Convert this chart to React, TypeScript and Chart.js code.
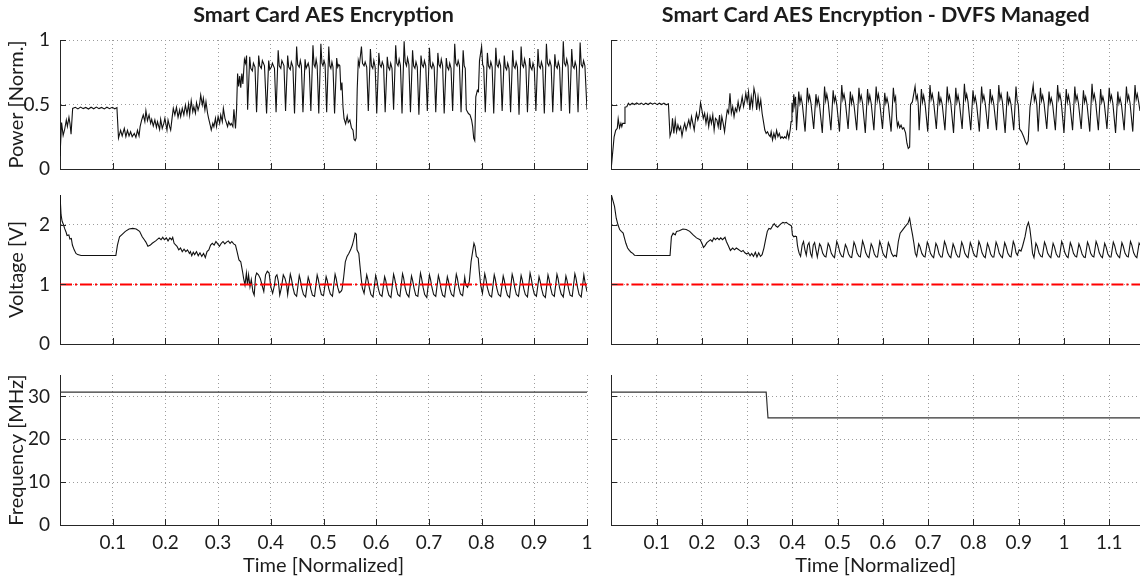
import { useEffect, useRef } from "react";
import { Chart, registerables } from "chart.js";

Chart.register(...registerables);

type Pt = [number, number];

// ---- axis ticks and limits ----
const stdTimeTicks = [0.1, 0.2, 0.3, 0.4, 0.5, 0.6, 0.7, 0.8, 0.9, 1];
const dvfsTimeTicks = [0.1, 0.2, 0.3, 0.4, 0.5, 0.6, 0.7, 0.8, 0.9, 1, 1.1];
const powerTicks = [0, 0.5, 1];
const voltageTicks = [0, 1, 2];
const freqTicks = [0, 10, 20, 30];

const stdTimeMax = 1;
const dvfsTimeMax = 1.168;
const powerMax = 1;
const voltageMax = 2.5;
const freqMax = 35;
const voltageFloor = 1;

// ---- normalised power, fixed clock ----
const powerStd: Pt[] = [
  [0, 0.1], [0.003, 0.36], [0.006, 0.26], [0.009, 0.31], [0.012, 0.38], [0.014, 0.33], [0.017, 0.4], [0.019, 0.35], [0.021, 0.27], [0.024, 0.47],
  [0.029, 0.478], [0.034, 0.466], [0.039, 0.48], [0.044, 0.468], [0.049, 0.477], [0.054, 0.465], [0.059, 0.479], [0.064, 0.467], [0.069, 0.48], [0.074, 0.468],
  [0.079, 0.477], [0.084, 0.466], [0.089, 0.479], [0.094, 0.468], [0.099, 0.478], [0.104, 0.467], [0.108, 0.476],
  [0.111, 0.24], [0.115, 0.3], [0.118, 0.256], [0.122, 0.315], [0.125, 0.251], [0.128, 0.3], [0.131, 0.256], [0.134, 0.289], [0.137, 0.251], [0.141, 0.276],
  [0.144, 0.245], [0.147, 0.3], [0.15, 0.256], [0.152, 0.328], [0.155, 0.38], [0.158, 0.419], [0.161, 0.367], [0.163, 0.452], [0.166, 0.375], [0.169, 0.419],
  [0.172, 0.354], [0.174, 0.385], [0.177, 0.333], [0.18, 0.38], [0.183, 0.323], [0.185, 0.367], [0.189, 0.307], [0.191, 0.385], [0.194, 0.315], [0.197, 0.354],
  [0.199, 0.393], [0.203, 0.302], [0.205, 0.38], [0.208, 0.328], [0.21, 0.302], [0.213, 0.406], [0.215, 0.47], [0.218, 0.419], [0.221, 0.478], [0.224, 0.401],
  [0.227, 0.457], [0.229, 0.406], [0.232, 0.47], [0.235, 0.419], [0.238, 0.496], [0.241, 0.426], [0.244, 0.504], [0.246, 0.419], [0.249, 0.53], [0.252, 0.444],
  [0.254, 0.483], [0.257, 0.432], [0.259, 0.514], [0.262, 0.457], [0.265, 0.504], [0.267, 0.574], [0.27, 0.496], [0.272, 0.548], [0.275, 0.457], [0.277, 0.522],
  [0.28, 0.432], [0.282, 0.393], [0.285, 0.341], [0.287, 0.302], [0.29, 0.354], [0.292, 0.328], [0.295, 0.393], [0.297, 0.328], [0.3, 0.406], [0.303, 0.354],
  [0.305, 0.419], [0.308, 0.367], [0.31, 0.47], [0.313, 0.393], [0.315, 0.367], [0.318, 0.328], [0.32, 0.367], [0.323, 0.341], [0.325, 0.354], [0.328, 0.328],
  [0.33, 0.463], [0.333, 0.315], [0.335, 0.457],
  [0.337, 0.74], [0.339, 0.64], [0.341, 0.72], [0.343, 0.63], [0.345, 0.74], [0.347, 0.66], [0.35, 0.85], [0.352, 0.82], [0.354, 0.88],
  [0.356, 0.46], [0.36, 0.87], [0.362, 0.78], [0.365, 0.76], [0.367, 0.82], [0.37, 0.79],
  [0.373, 0.44], [0.377, 0.88], [0.379, 0.8], [0.382, 0.78], [0.384, 0.84], [0.388, 0.8],
  [0.392, 0.43], [0.396, 0.84], [0.398, 0.77], [0.401, 0.79], [0.403, 0.82], [0.407, 0.78],
  [0.41, 0.44], [0.414, 0.92], [0.416, 0.8], [0.419, 0.78], [0.421, 0.84], [0.425, 0.8],
  [0.428, 0.45], [0.432, 0.88], [0.434, 0.79], [0.437, 0.77], [0.439, 0.83], [0.442, 0.79],
  [0.445, 0.43], [0.449, 0.95], [0.451, 0.81], [0.454, 0.79], [0.456, 0.84], [0.458, 0.8],
  [0.461, 0.44], [0.465, 0.85], [0.467, 0.78], [0.469, 0.8], [0.471, 0.82], [0.473, 0.78],
  [0.476, 0.45], [0.48, 0.96], [0.482, 0.81], [0.484, 0.79], [0.486, 0.85], [0.488, 0.8],
  [0.491, 0.43], [0.495, 0.97], [0.497, 0.82], [0.499, 0.8], [0.501, 0.84], [0.503, 0.81],
  [0.506, 0.44], [0.51, 0.95], [0.512, 0.8], [0.514, 0.78], [0.516, 0.83], [0.518, 0.79],
  [0.521, 0.43], [0.525, 0.86], [0.527, 0.79], [0.529, 0.81], [0.531, 0.8], [0.533, 0.61], [0.535, 0.67],
  [0.537, 0.48], [0.539, 0.39], [0.542, 0.35], [0.545, 0.41], [0.547, 0.36], [0.55, 0.38], [0.553, 0.32], [0.556, 0.3], [0.558, 0.23], [0.56, 0.22],
  [0.562, 0.24], [0.564, 0.62], [0.566, 0.84], [0.568, 0.8], [0.572, 0.95], [0.574, 0.82], [0.577, 0.8], [0.579, 0.83], [0.582, 0.79],
  [0.585, 0.45], [0.589, 0.93], [0.591, 0.8], [0.5935, 0.78], [0.5955, 0.84], [0.598, 0.79],
  [0.601, 0.43], [0.605, 0.9], [0.607, 0.81], [0.6095, 0.79], [0.6115, 0.83], [0.614, 0.8],
  [0.617, 0.44], [0.621, 0.87], [0.623, 0.79], [0.6255, 0.77], [0.6275, 0.82], [0.63, 0.78],
  [0.633, 0.46], [0.637, 0.96], [0.639, 0.82], [0.6415, 0.8], [0.6435, 0.85], [0.646, 0.8],
  [0.649, 0.43], [0.653, 0.99], [0.655, 0.83], [0.6575, 0.8], [0.6595, 0.86], [0.662, 0.81],
  [0.665, 0.44], [0.669, 0.92], [0.671, 0.8], [0.6735, 0.78], [0.6755, 0.83], [0.678, 0.79],
  [0.681, 0.42], [0.685, 0.88], [0.687, 0.81], [0.6895, 0.79], [0.6915, 0.84], [0.694, 0.8],
  [0.697, 0.45], [0.701, 0.94], [0.703, 0.8], [0.7055, 0.78], [0.7075, 0.82], [0.71, 0.79],
  [0.713, 0.44], [0.717, 0.9], [0.719, 0.81], [0.7215, 0.79], [0.7235, 0.85], [0.726, 0.8],
  [0.729, 0.43], [0.733, 0.86], [0.735, 0.79], [0.7375, 0.77], [0.7395, 0.82], [0.742, 0.78],
  [0.745, 0.45], [0.749, 0.97], [0.751, 0.82], [0.7535, 0.8], [0.7555, 0.84], [0.758, 0.8],
  [0.761, 0.44], [0.765, 0.92], [0.767, 0.8], [0.769, 0.78],
  [0.771, 0.46], [0.775, 0.43], [0.778, 0.42], [0.781, 0.38], [0.783, 0.33], [0.785, 0.24], [0.787, 0.22], [0.789, 0.56], [0.792, 0.61], [0.794, 0.6],
  [0.796, 0.84], [0.8, 0.95], [0.802, 0.81], [0.804, 0.79],
  [0.807, 0.44], [0.811, 0.9], [0.813, 0.8], [0.8155, 0.78], [0.8175, 0.83], [0.82, 0.79],
  [0.823, 0.43], [0.827, 0.94], [0.829, 0.81], [0.8315, 0.79], [0.8335, 0.84], [0.836, 0.8],
  [0.839, 0.45], [0.843, 0.88], [0.845, 0.79], [0.8475, 0.77], [0.8495, 0.82], [0.852, 0.78],
  [0.855, 0.44], [0.859, 0.92], [0.861, 0.8], [0.8635, 0.78], [0.8655, 0.83], [0.868, 0.79],
  [0.871, 0.42], [0.875, 0.95], [0.877, 0.81], [0.8795, 0.79], [0.8815, 0.85], [0.884, 0.8],
  [0.887, 0.44], [0.891, 0.86], [0.893, 0.79], [0.8955, 0.77], [0.8975, 0.82], [0.9, 0.78],
  [0.903, 0.45], [0.907, 0.93], [0.909, 0.8], [0.9115, 0.78], [0.9135, 0.83], [0.916, 0.79],
  [0.919, 0.43], [0.923, 0.97], [0.925, 0.82], [0.9275, 0.8], [0.9295, 0.84], [0.932, 0.8],
  [0.935, 0.44], [0.939, 0.89], [0.941, 0.8], [0.9435, 0.78], [0.9455, 0.83], [0.948, 0.79],
  [0.951, 0.45], [0.955, 0.99], [0.957, 0.82], [0.9595, 0.8], [0.9615, 0.85], [0.964, 0.8],
  [0.967, 0.43], [0.971, 0.93], [0.973, 0.8], [0.9755, 0.78], [0.9775, 0.83], [0.98, 0.79],
  [0.983, 0.44], [0.987, 0.98], [0.989, 0.81], [0.9915, 0.79], [0.9935, 0.84], [0.996, 0.8], [1, 0.46],
];

// ---- normalised power, DVFS managed ----
const powerDvfs: Pt[] = [
  [0, 0.02], [0.006, 0.25], [0.0095, 0.3], [0.013, 0.315], [0.015, 0.39], [0.018, 0.32], [0.021, 0.354], [0.023, 0.328], [0.025, 0.354], [0.028, 0.354],
  [0.03, 0.48], [0.034, 0.483], [0.0375, 0.51],
  [0.041, 0.496], [0.046, 0.51], [0.051, 0.5], [0.056, 0.512], [0.061, 0.501], [0.066, 0.511], [0.071, 0.499], [0.076, 0.51], [0.081, 0.5], [0.086, 0.512],
  [0.091, 0.502], [0.096, 0.511], [0.101, 0.499], [0.106, 0.51], [0.111, 0.5], [0.116, 0.511], [0.121, 0.498], [0.126, 0.505],
  [0.1295, 0.256], [0.133, 0.3], [0.135, 0.393], [0.138, 0.276], [0.141, 0.38], [0.144, 0.289], [0.147, 0.341], [0.15, 0.302], [0.153, 0.328], [0.156, 0.256],
  [0.159, 0.315], [0.162, 0.354], [0.165, 0.302], [0.168, 0.341], [0.171, 0.38], [0.174, 0.328], [0.177, 0.406], [0.18, 0.354], [0.183, 0.302], [0.186, 0.393],
  [0.188, 0.432], [0.191, 0.38], [0.194, 0.419], [0.197, 0.514], [0.2, 0.457], [0.203, 0.393], [0.206, 0.432], [0.209, 0.354], [0.212, 0.419], [0.215, 0.328],
  [0.218, 0.406], [0.221, 0.354], [0.224, 0.419], [0.227, 0.302], [0.23, 0.393], [0.233, 0.38], [0.236, 0.328], [0.239, 0.419], [0.241, 0.302], [0.244, 0.406],
  [0.247, 0.354], [0.25, 0.289], [0.253, 0.38], [0.256, 0.457], [0.259, 0.432], [0.262, 0.587], [0.265, 0.432], [0.268, 0.483], [0.271, 0.406], [0.274, 0.47],
  [0.277, 0.444], [0.28, 0.522], [0.283, 0.457], [0.286, 0.496], [0.289, 0.561], [0.292, 0.483], [0.295, 0.535], [0.297, 0.587], [0.3, 0.522], [0.303, 0.599],
  [0.306, 0.457], [0.309, 0.561], [0.312, 0.483], [0.315, 0.625], [0.318, 0.574], [0.321, 0.457], [0.324, 0.561], [0.327, 0.47], [0.33, 0.535], [0.333, 0.432],
  [0.336, 0.367], [0.339, 0.302], [0.342, 0.276], [0.345, 0.289], [0.348, 0.264], [0.351, 0.251], [0.353, 0.289], [0.356, 0.225], [0.359, 0.276], [0.362, 0.238],
  [0.365, 0.3], [0.368, 0.251], [0.371, 0.276], [0.374, 0.238], [0.377, 0.251], [0.38, 0.238], [0.383, 0.251], [0.386, 0.238], [0.389, 0.289], [0.392, 0.238],
  [0.395, 0.302], [0.397, 0.367], [0.399, 0.514], [0.401, 0.44], [0.403, 0.58], [0.405, 0.5], [0.407, 0.56],
  [0.409, 0.3], [0.414, 0.6], [0.4165, 0.51], [0.419, 0.56], [0.422, 0.5],
  [0.428, 0.29], [0.433, 0.63], [0.4355, 0.53], [0.438, 0.57], [0.441, 0.51],
  [0.447, 0.31], [0.452, 0.58], [0.4545, 0.5], [0.457, 0.55], [0.46, 0.49],
  [0.466, 0.28], [0.471, 0.64], [0.4735, 0.53], [0.476, 0.58], [0.479, 0.52],
  [0.485, 0.3], [0.49, 0.61], [0.4925, 0.52], [0.495, 0.56], [0.498, 0.5],
  [0.504, 0.29], [0.509, 0.65], [0.5115, 0.54], [0.514, 0.58], [0.517, 0.52],
  [0.523, 0.31], [0.528, 0.6], [0.5305, 0.51], [0.533, 0.56], [0.536, 0.5],
  [0.542, 0.3], [0.547, 0.63], [0.5495, 0.53], [0.552, 0.57], [0.555, 0.51],
  [0.561, 0.28], [0.566, 0.62], [0.5685, 0.52], [0.571, 0.57], [0.574, 0.51],
  [0.58, 0.3], [0.585, 0.64], [0.5875, 0.53], [0.59, 0.58], [0.593, 0.51],
  [0.599, 0.31], [0.604, 0.59], [0.6065, 0.51], [0.609, 0.55], [0.612, 0.5],
  [0.618, 0.29], [0.623, 0.63], [0.6255, 0.53], [0.628, 0.56], [0.63, 0.4],
  [0.632, 0.33], [0.634, 0.36], [0.637, 0.32], [0.64, 0.34], [0.643, 0.31], [0.646, 0.32], [0.65, 0.28], [0.653, 0.2], [0.656, 0.16], [0.659, 0.17],
  [0.661, 0.5], [0.665, 0.52], [0.671, 0.64], [0.6735, 0.54], [0.676, 0.57], [0.678, 0.5],
  [0.68, 0.3], [0.685, 0.62], [0.6875, 0.52], [0.69, 0.57], [0.693, 0.51],
  [0.699, 0.29], [0.704, 0.65], [0.7065, 0.54], [0.709, 0.58], [0.712, 0.52],
  [0.718, 0.31], [0.723, 0.6], [0.7255, 0.51], [0.728, 0.55], [0.731, 0.5],
  [0.737, 0.3], [0.742, 0.64], [0.7445, 0.53], [0.747, 0.57], [0.75, 0.51],
  [0.756, 0.28], [0.761, 0.63], [0.7635, 0.52], [0.766, 0.57], [0.769, 0.51],
  [0.775, 0.31], [0.78, 0.66], [0.7825, 0.54], [0.785, 0.58], [0.788, 0.52],
  [0.794, 0.3], [0.799, 0.61], [0.8015, 0.52], [0.804, 0.56], [0.807, 0.5],
  [0.813, 0.29], [0.818, 0.64], [0.8205, 0.53], [0.823, 0.57], [0.826, 0.51],
  [0.832, 0.31], [0.837, 0.62], [0.8395, 0.52], [0.842, 0.56], [0.845, 0.5],
  [0.851, 0.3], [0.856, 0.65], [0.8585, 0.54], [0.861, 0.58], [0.864, 0.52],
  [0.87, 0.28], [0.875, 0.6], [0.8775, 0.51], [0.88, 0.55], [0.883, 0.5],
  [0.889, 0.3], [0.894, 0.64], [0.8965, 0.53], [0.899, 0.5],
  [0.902, 0.31], [0.906, 0.29], [0.911, 0.25], [0.915, 0.21], [0.918, 0.19], [0.921, 0.22], [0.925, 0.48], [0.928, 0.55], [0.932, 0.65], [0.9345, 0.53],
  [0.937, 0.57], [0.94, 0.5],
  [0.943, 0.29], [0.948, 0.63], [0.9505, 0.53], [0.953, 0.57], [0.956, 0.51],
  [0.962, 0.31], [0.967, 0.6], [0.9695, 0.51], [0.972, 0.55], [0.975, 0.5],
  [0.981, 0.3], [0.986, 0.65], [0.9885, 0.54], [0.991, 0.58], [0.994, 0.52],
  [1, 0.28], [1.005, 0.62], [1.0075, 0.52], [1.01, 0.57], [1.013, 0.51],
  [1.019, 0.3], [1.024, 0.64], [1.0265, 0.53], [1.029, 0.57], [1.032, 0.51],
  [1.038, 0.31], [1.043, 0.61], [1.0455, 0.52], [1.048, 0.56], [1.051, 0.5],
  [1.057, 0.29], [1.062, 0.66], [1.0645, 0.54], [1.067, 0.58], [1.07, 0.52],
  [1.076, 0.3], [1.081, 0.62], [1.0835, 0.52], [1.086, 0.56], [1.089, 0.51],
  [1.095, 0.31], [1.1, 0.63], [1.1025, 0.53], [1.105, 0.57], [1.108, 0.51],
  [1.114, 0.28], [1.119, 0.6], [1.1215, 0.51], [1.124, 0.55], [1.127, 0.5],
  [1.133, 0.3], [1.138, 0.64], [1.1405, 0.53], [1.143, 0.57], [1.146, 0.51],
  [1.152, 0.29], [1.157, 0.65], [1.1595, 0.54], [1.162, 0.58], [1.165, 0.52], [1.168, 0.45],
];

// ---- supply voltage, fixed clock ----
const voltageStd: Pt[] = [
  [0, 2.5], [0.002, 2.17], [0.004, 2.06], [0.0067, 2.0], [0.0087, 1.94], [0.0114, 1.88], [0.0134, 1.82], [0.0168, 1.83], [0.0188, 1.76], [0.0215, 1.77],
  [0.0235, 1.66], [0.0269, 1.58], [0.0303, 1.52], [0.0336, 1.5], [0.04, 1.485], [0.106, 1.485],
  [0.109, 1.66], [0.113, 1.8], [0.118, 1.84], [0.124, 1.89], [0.131, 1.93], [0.138, 1.94], [0.1446, 1.93], [0.151, 1.89], [0.156, 1.8], [0.16, 1.75],
  [0.163, 1.71], [0.1668, 1.64], [0.1715, 1.66], [0.175, 1.69], [0.1816, 1.73], [0.188, 1.78], [0.1917, 1.75], [0.195, 1.79], [0.198, 1.75], [0.2018, 1.78],
  [0.205, 1.73], [0.2085, 1.78], [0.2118, 1.75], [0.2139, 1.79], [0.2165, 1.69], [0.222, 1.64], [0.2253, 1.58], [0.2287, 1.61], [0.232, 1.55], [0.2354, 1.59],
  [0.2387, 1.55], [0.242, 1.58], [0.2455, 1.52], [0.2475, 1.55], [0.25, 1.48], [0.2529, 1.54], [0.2555, 1.5], [0.259, 1.55], [0.2623, 1.48], [0.2656, 1.53],
  [0.269, 1.47], [0.2724, 1.52], [0.2757, 1.45], [0.279, 1.55], [0.2824, 1.58], [0.2858, 1.66], [0.289, 1.69], [0.2925, 1.66], [0.2959, 1.72], [0.2993, 1.68],
  [0.3026, 1.64], [0.306, 1.69], [0.3093, 1.72], [0.3127, 1.68], [0.316, 1.71], [0.3194, 1.73], [0.3228, 1.69], [0.326, 1.72], [0.3295, 1.68], [0.333, 1.66],
  [0.336, 1.55], [0.3396, 1.41], [0.343, 1.38], [0.3463, 1.22], [0.3484, 1.1], [0.351, 0.99], [0.3537, 1.19], [0.3557, 0.99], [0.3578, 1.16], [0.3605, 0.96],
  [0.363, 1.08], [0.366, 0.88], [0.3685, 0.82], [0.371, 1.13], [0.3732, 1.19], [0.3766, 1.16], [0.38, 1.1], [0.3833, 0.99], [0.3867, 0.88], [0.39, 1.16],
  [0.3934, 1.22], [0.3968, 1.19], [0.4, 0.96], [0.4035, 0.85], [0.407, 0.99], [0.409, 1.13], [0.4116, 1.16], [0.4143, 1.05], [0.417, 0.82], [0.42, 0.94],
  [0.4237, 1.16], [0.427, 1.1], [0.43, 0.99],
  [0.432, 0.83], [0.437, 1.17], [0.439, 1.1], [0.442, 0.95], [0.445, 0.84],
  [0.449, 0.8], [0.454, 1.15], [0.456, 1.08], [0.459, 0.93], [0.462, 0.83],
  [0.466, 0.79], [0.471, 1.12], [0.473, 1.06], [0.476, 0.92], [0.479, 0.82],
  [0.483, 0.8], [0.488, 1.16], [0.49, 1.09], [0.493, 0.94], [0.496, 0.83],
  [0.5, 0.81], [0.505, 1.13], [0.507, 1.07], [0.51, 0.93], [0.513, 0.84],
  [0.517, 0.8], [0.522, 1.17], [0.524, 1.1], [0.527, 0.95], [0.53, 0.86],
  [0.533, 0.88], [0.535, 0.91], [0.538, 1.1], [0.5414, 1.38], [0.5447, 1.47], [0.548, 1.52], [0.5514, 1.58], [0.5548, 1.66], [0.5582, 1.78], [0.56, 1.86],
  [0.5622, 1.84], [0.5636, 1.58], [0.567, 1.52], [0.569, 1.33], [0.5716, 1.1], [0.5736, 0.94], [0.577, 0.85],
  [0.582, 1.16], [0.584, 1.09], [0.587, 0.94], [0.59, 0.83],
  [0.594, 0.79], [0.599, 1.15], [0.601, 1.08], [0.604, 0.93], [0.607, 0.83],
  [0.611, 0.8], [0.616, 1.13], [0.618, 1.07], [0.621, 0.92], [0.624, 0.82],
  [0.628, 0.78], [0.633, 1.17], [0.635, 1.1], [0.638, 0.95], [0.641, 0.83],
  [0.645, 0.8], [0.65, 1.18], [0.652, 1.11], [0.655, 0.94], [0.658, 0.84],
  [0.662, 0.79], [0.667, 1.14], [0.669, 1.07], [0.672, 0.93], [0.675, 0.82],
  [0.679, 0.8], [0.684, 1.19], [0.686, 1.11], [0.689, 0.95], [0.692, 0.83],
  [0.696, 0.78], [0.701, 1.16], [0.703, 1.09], [0.706, 0.94], [0.709, 0.83],
  [0.713, 0.8], [0.718, 1.15], [0.72, 1.08], [0.723, 0.93], [0.726, 0.82],
  [0.73, 0.79], [0.735, 1.13], [0.737, 1.06], [0.74, 0.92], [0.743, 0.83],
  [0.747, 0.8], [0.752, 1.17], [0.754, 1.1], [0.757, 0.94], [0.76, 0.84],
  [0.764, 0.81], [0.768, 1.12], [0.77, 0.99],
  [0.7734, 0.95], [0.7767, 1.05], [0.78, 1.38], [0.7835, 1.58], [0.7855, 1.69], [0.7875, 1.64], [0.79, 1.47], [0.7936, 1.44], [0.7956, 1.22], [0.7982, 0.99],
  [0.8016, 0.85], [0.806, 1.18], [0.808, 1.1], [0.811, 0.94], [0.815, 0.82],
  [0.819, 0.79], [0.824, 1.16], [0.826, 1.09], [0.829, 0.93], [0.832, 0.83],
  [0.836, 0.8], [0.841, 1.14], [0.843, 1.07], [0.846, 0.92], [0.849, 0.82],
  [0.853, 0.78], [0.858, 1.17], [0.86, 1.1], [0.863, 0.94], [0.866, 0.83],
  [0.87, 0.8], [0.875, 1.15], [0.877, 1.08], [0.88, 0.93], [0.883, 0.83],
  [0.887, 0.79], [0.892, 1.19], [0.894, 1.11], [0.897, 0.95], [0.9, 0.84],
  [0.904, 0.8], [0.909, 1.13], [0.911, 1.06], [0.914, 0.92], [0.917, 0.82],
  [0.921, 0.78], [0.926, 1.16], [0.928, 1.09], [0.931, 0.94], [0.934, 0.83],
  [0.938, 0.8], [0.943, 1.17], [0.945, 1.1], [0.948, 0.94], [0.951, 0.84],
  [0.955, 0.79], [0.96, 1.14], [0.962, 1.07], [0.965, 0.93], [0.968, 0.82],
  [0.972, 0.8], [0.977, 1.18], [0.979, 1.11], [0.982, 0.95], [0.985, 0.83],
  [0.989, 0.79], [0.994, 1.16], [0.996, 1.05], [1, 0.88],
];

// ---- supply voltage, DVFS managed ----
const voltageDvfs: Pt[] = [
  [0, 2.5], [0.0069, 2.31], [0.0107, 2.11], [0.0145, 2.0], [0.0183, 1.92], [0.022, 1.89], [0.026, 1.86], [0.028, 1.8], [0.032, 1.69], [0.0358, 1.61],
  [0.0396, 1.57], [0.0434, 1.54], [0.0473, 1.52], [0.051, 1.49], [0.0587, 1.485], [0.1296, 1.485],
  [0.1326, 1.8], [0.1364, 1.86], [0.141, 1.83], [0.144, 1.89], [0.15, 1.9], [0.158, 1.93], [0.1654, 1.92], [0.173, 1.89], [0.1806, 1.83], [0.188, 1.78],
  [0.196, 1.75], [0.2, 1.69], [0.2035, 1.62], [0.207, 1.65], [0.211, 1.7], [0.219, 1.75], [0.2226, 1.72], [0.2264, 1.78], [0.23, 1.75], [0.234, 1.78],
  [0.238, 1.75], [0.2416, 1.78], [0.2454, 1.75], [0.251, 1.79], [0.254, 1.72], [0.2584, 1.65], [0.263, 1.57], [0.268, 1.61], [0.272, 1.58], [0.276, 1.61],
  [0.28, 1.59], [0.2835, 1.57], [0.287, 1.55], [0.291, 1.57], [0.295, 1.53], [0.2988, 1.51], [0.3026, 1.53], [0.3064, 1.48], [0.31, 1.52], [0.314, 1.47],
  [0.318, 1.54], [0.3216, 1.46], [0.3255, 1.53], [0.3293, 1.47], [0.333, 1.5], [0.337, 1.61], [0.3407, 1.75], [0.3445, 1.89], [0.348, 1.94], [0.352, 1.93],
  [0.356, 1.98], [0.3598, 2.02], [0.3636, 1.98], [0.3674, 1.96], [0.371, 1.99], [0.375, 2.02], [0.379, 2.04], [0.3826, 2.03], [0.3864, 2.04], [0.39, 2.02],
  [0.394, 2.0], [0.398, 1.98], [0.4, 1.83], [0.403, 1.8], [0.406, 1.81], [0.409, 1.8], [0.411, 1.66], [0.413, 1.58], [0.415, 1.52], [0.418, 1.47],
  [0.4215, 1.66], [0.4245, 1.72], [0.4276, 1.58], [0.4306, 1.49], [0.4337, 1.66], [0.4367, 1.7], [0.44, 1.52], [0.443, 1.46], [0.446, 1.66], [0.449, 1.7],
  [0.452, 1.58], [0.455, 1.46], [0.46, 1.68], [0.463, 1.64], [0.467, 1.52], [0.471, 1.47],
  [0.474, 1.46], [0.479, 1.69], [0.482, 1.64], [0.486, 1.52], [0.49, 1.47],
  [0.493, 1.45], [0.498, 1.72], [0.501, 1.66], [0.505, 1.53], [0.509, 1.47],
  [0.512, 1.46], [0.517, 1.67], [0.52, 1.62], [0.524, 1.51], [0.528, 1.46],
  [0.531, 1.45], [0.536, 1.71], [0.539, 1.65], [0.543, 1.52], [0.547, 1.47],
  [0.55, 1.46], [0.555, 1.73], [0.558, 1.66], [0.562, 1.53], [0.566, 1.47],
  [0.569, 1.45], [0.574, 1.68], [0.577, 1.63], [0.581, 1.51], [0.585, 1.46],
  [0.588, 1.46], [0.593, 1.72], [0.596, 1.65], [0.6, 1.52], [0.604, 1.47],
  [0.607, 1.45], [0.612, 1.7], [0.615, 1.64], [0.619, 1.52], [0.623, 1.47],
  [0.6265, 1.49], [0.63, 1.47], [0.634, 1.72], [0.638, 1.86], [0.644, 1.92], [0.649, 1.97], [0.6555, 2.03], [0.659, 2.11], [0.662, 1.97], [0.6654, 1.83],
  [0.6684, 1.69], [0.6715, 1.52], [0.6745, 1.47],
  [0.679, 1.68], [0.682, 1.63], [0.686, 1.52], [0.69, 1.47],
  [0.693, 1.46], [0.698, 1.71], [0.701, 1.65], [0.705, 1.52], [0.709, 1.47],
  [0.712, 1.45], [0.717, 1.69], [0.72, 1.64], [0.724, 1.51], [0.728, 1.46],
  [0.731, 1.46], [0.736, 1.72], [0.739, 1.66], [0.743, 1.53], [0.747, 1.47],
  [0.75, 1.45], [0.755, 1.68], [0.758, 1.62], [0.762, 1.51], [0.766, 1.46],
  [0.769, 1.46], [0.774, 1.71], [0.777, 1.65], [0.781, 1.52], [0.785, 1.47],
  [0.788, 1.45], [0.793, 1.7], [0.796, 1.64], [0.8, 1.52], [0.804, 1.47],
  [0.807, 1.46], [0.812, 1.72], [0.815, 1.66], [0.819, 1.53], [0.823, 1.47],
  [0.826, 1.45], [0.831, 1.69], [0.834, 1.63], [0.838, 1.51], [0.842, 1.46],
  [0.845, 1.46], [0.85, 1.71], [0.853, 1.65], [0.857, 1.52], [0.861, 1.47],
  [0.864, 1.45], [0.869, 1.7], [0.872, 1.64], [0.876, 1.52], [0.88, 1.47],
  [0.883, 1.46], [0.888, 1.72], [0.891, 1.66], [0.894, 1.53],
  [0.897, 1.49], [0.901, 1.58], [0.905, 1.56], [0.9085, 1.64], [0.914, 1.8], [0.918, 1.97], [0.9215, 2.04], [0.9245, 1.94], [0.9276, 1.75], [0.9306, 1.52],
  [0.9337, 1.45], [0.938, 1.69], [0.941, 1.64], [0.945, 1.52], [0.949, 1.47],
  [0.952, 1.46], [0.957, 1.71], [0.96, 1.65], [0.964, 1.52], [0.968, 1.47],
  [0.971, 1.45], [0.976, 1.69], [0.979, 1.63], [0.983, 1.51], [0.987, 1.46],
  [0.99, 1.46], [0.995, 1.72], [0.998, 1.66], [1.002, 1.53], [1.006, 1.47],
  [1.009, 1.45], [1.014, 1.7], [1.017, 1.64], [1.021, 1.52], [1.025, 1.47],
  [1.028, 1.46], [1.033, 1.68], [1.036, 1.62], [1.04, 1.51], [1.044, 1.46],
  [1.047, 1.45], [1.052, 1.71], [1.055, 1.65], [1.059, 1.52], [1.063, 1.47],
  [1.066, 1.46], [1.071, 1.72], [1.074, 1.66], [1.078, 1.53], [1.082, 1.47],
  [1.085, 1.45], [1.09, 1.69], [1.093, 1.63], [1.097, 1.51], [1.101, 1.46],
  [1.104, 1.46], [1.109, 1.71], [1.112, 1.65], [1.116, 1.52], [1.12, 1.47],
  [1.123, 1.45], [1.128, 1.7], [1.131, 1.64], [1.135, 1.52], [1.139, 1.47],
  [1.142, 1.46], [1.147, 1.72], [1.15, 1.66], [1.154, 1.53], [1.158, 1.47],
  [1.161, 1.45], [1.166, 1.69], [1.168, 1.66],
];

// ---- clock frequency [MHz] ----
const freqStd: Pt[] = [[0, 31], [1, 31]];
const freqDvfs: Pt[] = [[0, 31], [0.342, 31], [0.346, 25], [1.168, 25]];

// ---- styling ----
const FONT = "Lato, 'Open Sans', sans-serif";
const TEXT = "#1c1c1c";
const AXIS = "#262626";
const GRID = "#9c9c9c";
const TRACE = "#111111";
const LIMIT = "#ff0000";
const LABEL_SIZE = 19;
const AXIS_TITLE_SIZE = 20;
const TITLE_SIZE = 21.5;

interface Series { data: Pt[]; color: string; width: number; dash?: number[] }
interface PanelSpec {
  x: number; y: number; w: number; h: number;
  padTop: number; padRight: number; yWidth: number; xHeight: number;
  xMax: number; xTicks: number[];
  yMax: number; yTicks: number[];
  yLabels: boolean; yTitle?: string;
  xLabels: boolean; xTitle?: string;
  title?: string;
  series: Series[];
}

const floorLine = (xMax: number): Series => ({ data: [[0, voltageFloor], [xMax, voltageFloor]], color: LIMIT, width: 2, dash: [12, 3, 2, 3] });

const LEFT = { x: 0, w: 600, padRight: 13, yWidth: 60, xMax: stdTimeMax, xTicks: stdTimeTicks, yLabels: true };
const RIGHT = { x: 600, w: 540, padRight: 0, yWidth: 11.4, xMax: dvfsTimeMax, xTicks: dvfsTimeTicks, yLabels: false };

// plot areas: power 40-169, voltage 195-344, frequency 375-525 (page pixels)
const ROW_POWER = { y: 0, h: 191, padTop: 0, xHeight: 22 };
const ROW_VOLT = { y: 173, h: 193, padTop: 22, xHeight: 22 };
const ROW_FREQ = { y: 353, h: 228, padTop: 22, xHeight: 56 };

const panels: PanelSpec[] = [
  { ...LEFT, ...ROW_POWER, yMax: powerMax, yTicks: powerTicks, yTitle: "Power [Norm.]", xLabels: false,
    title: "Smart Card AES Encryption", series: [{ data: powerStd, color: TRACE, width: 1.1 }] },
  { ...RIGHT, ...ROW_POWER, yMax: powerMax, yTicks: powerTicks, xLabels: false,
    title: "Smart Card AES Encryption - DVFS Managed", series: [{ data: powerDvfs, color: TRACE, width: 1.1 }] },
  { ...LEFT, ...ROW_VOLT, yMax: voltageMax, yTicks: voltageTicks, yTitle: "Voltage [V]", xLabels: false,
    series: [floorLine(stdTimeMax), { data: voltageStd, color: TRACE, width: 1.1 }] },
  { ...RIGHT, ...ROW_VOLT, yMax: voltageMax, yTicks: voltageTicks, xLabels: false,
    series: [floorLine(dvfsTimeMax), { data: voltageDvfs, color: TRACE, width: 1.1 }] },
  { ...LEFT, ...ROW_FREQ, yMax: freqMax, yTicks: freqTicks, yTitle: "Frequency [MHz]", xLabels: true,
    xTitle: "Time [Normalized]", series: [{ data: freqStd, color: "#333333", width: 1.2 }] },
  { ...RIGHT, ...ROW_FREQ, yMax: freqMax, yTicks: freqTicks, xLabels: true,
    xTitle: "Time [Normalized]", series: [{ data: freqDvfs, color: "#333333", width: 1.2 }] },
];

// short tick marks pointing into the plot area
const inwardTicks = {
  id: "inwardTicks",
  afterDatasetsDraw(chart: any) {
    const { ctx, chartArea: a, scales } = chart;
    const xs = scales.x;
    const ys = scales.y;
    ctx.save();
    ctx.strokeStyle = AXIS;
    ctx.lineWidth = 1;
    ctx.beginPath();
    for (const t of xs.ticks) {
      const px = Math.round(xs.getPixelForValue(t.value)) + 0.5;
      ctx.moveTo(px, a.bottom);
      ctx.lineTo(px, a.bottom - 6);
    }
    for (const t of ys.ticks) {
      if (t.value === 0) continue;
      const py = Math.round(ys.getPixelForValue(t.value)) + 0.5;
      ctx.moveTo(a.left, py);
      ctx.lineTo(a.left + 6, py);
    }
    ctx.stroke();
    ctx.restore();
  },
};

const fmt = (v: number | string) => `${Number(v)}`;

function buildConfig(p: PanelSpec): any {
  const gridColor = (c: any) => (c.tick && c.tick.value === 0 ? "rgba(0,0,0,0)" : GRID);
  return {
    type: "line",
    data: {
      datasets: p.series.map((s) => ({
        data: s.data.map(([x, y]) => ({ x, y })),
        borderColor: s.color,
        borderWidth: s.width,
        borderDash: s.dash || [],
        pointRadius: 0,
        tension: 0,
        fill: false,
      })),
    },
    options: {
      animation: false,
      responsive: false,
      devicePixelRatio: 1,
      events: [],
      layout: { padding: { top: p.padTop, right: p.padRight, left: 0, bottom: 0 } },
      plugins: {
        legend: { display: false },
        tooltip: { enabled: false },
        title: {
          display: !!p.title,
          text: p.title || "",
          fullSize: false,
          color: TEXT,
          font: { family: FONT, size: TITLE_SIZE, weight: "bold" },
          padding: { top: 2.6, bottom: 11.6 },
        },
      },
      scales: {
        x: {
          type: "linear",
          min: 0,
          max: p.xMax,
          afterBuildTicks: (s: any) => { s.ticks = p.xTicks.map((v) => ({ value: v })); },
          afterFit: (s: any) => { s.height = p.xHeight; },
          grid: { color: gridColor, lineWidth: 1, drawTicks: false },
          border: { display: true, color: AXIS, width: 1, dash: [1, 3] },
          ticks: {
            display: p.xLabels,
            autoSkip: false,
            maxRotation: 0,
            padding: 6,
            color: TEXT,
            font: { family: FONT, size: LABEL_SIZE },
            callback: fmt,
          },
          title: {
            display: !!p.xTitle,
            text: p.xTitle || "",
            color: TEXT,
            font: { family: FONT, size: AXIS_TITLE_SIZE },
            padding: { top: 0, bottom: 3 },
          },
        },
        y: {
          type: "linear",
          min: 0,
          max: p.yMax,
          afterBuildTicks: (s: any) => { s.ticks = p.yTicks.map((v) => ({ value: v })); },
          afterFit: (s: any) => { s.width = p.yWidth; },
          grid: { color: gridColor, lineWidth: 1, drawTicks: false },
          border: { display: true, color: AXIS, width: 1, dash: [1, 3] },
          ticks: {
            display: p.yLabels,
            padding: 10,
            color: TEXT,
            font: { family: FONT, size: LABEL_SIZE },
            callback: fmt,
          },
          title: {
            display: !!p.yTitle,
            text: p.yTitle || "",
            color: TEXT,
            font: { family: FONT, size: AXIS_TITLE_SIZE },
            padding: { top: 4.5, bottom: 0 },
          },
        },
      },
    },
    plugins: [inwardTicks],
  };
}

function Panel({ spec }: { spec: PanelSpec }) {
  const ref = useRef<HTMLCanvasElement>(null);
  useEffect(() => {
    if (!ref.current) return;
    const chart = new Chart(ref.current, buildConfig(spec));
    return () => chart.destroy();
  }, [spec]);
  return (
    <canvas
      ref={ref}
      width={spec.w}
      height={spec.h}
      style={{ position: "absolute", left: spec.x, top: spec.y, width: spec.w, height: spec.h }}
    />
  );
}

export default function App() {
  return (
    <div style={{ position: "fixed", left: 0, top: 0, width: 1140, height: 581, background: "#ffffff", overflow: "hidden" }}>
      {panels.map((p, i) => (
        <Panel key={i} spec={p} />
      ))}
    </div>
  );
}
